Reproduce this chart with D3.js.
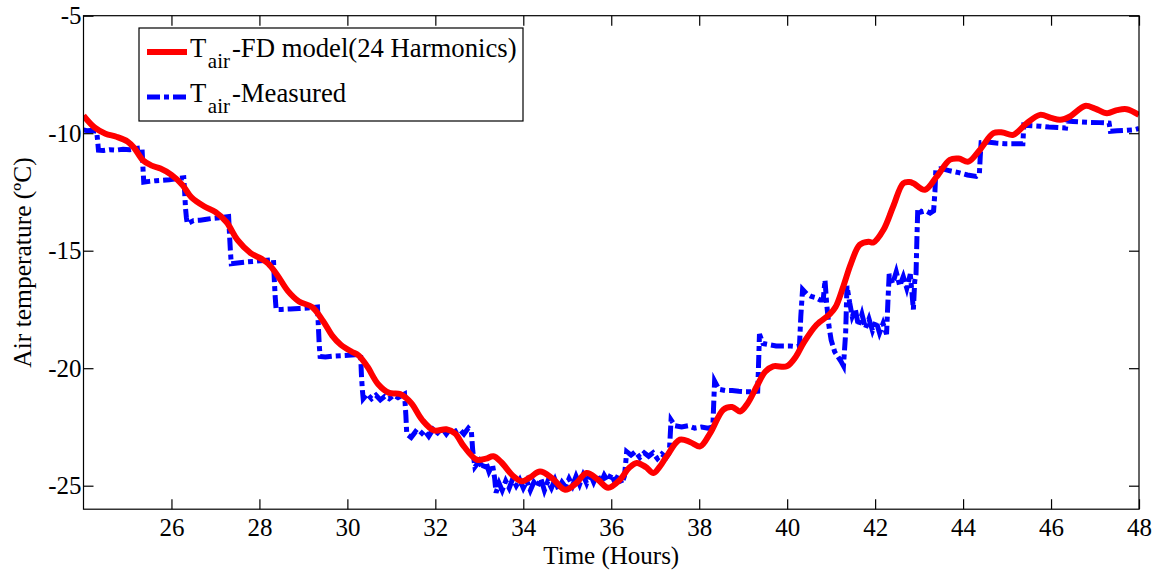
<!DOCTYPE html>
<html>
<head>
    <title>Air temperature</title>
    <style>
        body { margin: 0; background: #fff; }
        svg { font-family: "Liberation Serif", "Times New Roman", serif; }
        .axis path { display: none; }
        .axis line { stroke: #000; stroke-width: 1.2px; }
        .axis text { font-size: 25px; fill: #000; font-family: "Liberation Serif", serif; }
        .frame { fill: none; stroke: #000; stroke-width: 1.2px; }
        .model { fill: none; stroke: #ff0000; stroke-width: 6px; stroke-linejoin: round; }
        .measured { fill: none; stroke: #0000ff; stroke-width: 5px; stroke-dasharray: 13,4,5,4; }
    </style>
</head>
<body>
<div id="chart"></div>

<script src="https://d3js.org/d3.v7.min.js"></script>
<script>
    // tick values
    const xTicks = [26, 28, 30, 32, 34, 36, 38, 40, 42, 44, 46, 48];
    const yTicks = [-25, -20, -15, -10, -5];

    // T_air - FD model (24 harmonics), [hour, degC]
    const model = [
        [24.0, -9.25], [24.25, -9.75], [24.5, -10.02], [24.75, -10.15], [25.0, -10.35],
        [25.15, -10.62], [25.35, -11.15], [25.55, -11.38], [25.75, -11.5], [26.0, -11.77],
        [26.25, -12.2], [26.45, -12.72], [26.75, -13.12], [27.0, -13.35], [27.25, -13.78],
        [27.5, -14.54], [27.8, -15.1], [28.05, -15.35], [28.2, -15.55], [28.4, -16.02],
        [28.65, -16.72], [28.9, -17.16], [29.2, -17.4], [29.45, -18.0], [29.65, -18.6],
        [29.85, -19.0], [30.1, -19.3], [30.25, -19.45], [30.45, -19.92], [30.7, -20.68],
        [30.95, -21.05], [31.2, -21.1], [31.45, -21.48], [31.7, -22.2], [31.97, -22.65],
        [32.25, -22.6], [32.45, -22.78], [32.65, -23.33], [32.94, -23.89], [33.15, -23.85],
        [33.32, -23.75], [33.5, -24.0], [33.75, -24.55], [33.96, -24.81], [34.15, -24.65],
        [34.38, -24.4], [34.65, -24.67], [34.95, -25.17], [35.2, -24.9], [35.44, -24.46],
        [35.7, -24.75], [35.93, -25.09], [36.2, -24.74], [36.4, -24.25], [36.58, -24.03],
        [36.78, -24.2], [36.96, -24.46], [37.1, -24.2], [37.26, -23.75], [37.56, -23.04],
        [37.8, -23.15], [38.02, -23.33], [38.25, -22.76], [38.55, -21.76], [38.75, -21.65],
        [38.93, -21.84], [39.1, -21.5], [39.31, -20.77], [39.5, -20.15], [39.68, -19.92],
        [39.99, -19.92], [40.2, -19.5], [40.37, -18.93], [40.67, -18.15], [40.97, -17.7],
        [41.1, -17.4], [41.28, -16.5], [41.45, -15.55], [41.65, -14.75], [41.85, -14.62],
        [41.96, -14.65], [42.19, -14.11], [42.41, -13.12], [42.64, -12.13], [42.78, -12.08],
        [42.87, -12.13], [43.13, -12.41], [43.4, -11.85], [43.7, -11.13], [43.9, -11.08],
        [44.12, -11.21], [44.38, -10.71], [44.69, -10.0], [44.9, -9.97], [45.14, -10.07],
        [45.45, -9.57], [45.75, -9.22], [46.0, -9.35], [46.21, -9.43], [46.43, -9.29],
        [46.77, -8.84], [47.0, -8.95], [47.27, -9.15], [47.5, -9.02], [47.72, -8.98],
        [48.0, -9.22]
    ];

    // T_air - measured, [hour, degC]
    const measured = [
        [24.0, -9.86], [24.1, -9.9], [24.2, -9.88], [24.3, -9.92], [24.32, -10.3], [24.34, -10.72],
        [24.45, -10.74], [24.6, -10.7], [24.75, -10.72], [24.9, -10.68], [25.05, -10.7], [25.2, -10.65], [25.33, -10.62],
        [25.35, -11.4], [25.37, -12.08],
        [25.5, -12.05], [25.65, -12.02], [25.8, -12.0], [25.95, -11.98], [26.1, -11.94], [26.28, -11.9],
        [26.3, -12.5], [26.32, -13.2], [26.34, -13.6], [26.36, -13.85],
        [26.5, -13.72], [26.65, -13.7], [26.8, -13.66], [26.95, -13.62], [27.1, -13.6], [27.3, -13.55],
        [27.32, -14.3], [27.34, -15.0], [27.36, -15.55],
        [27.5, -15.52], [27.7, -15.48], [27.9, -15.45], [28.1, -15.42], [28.32, -15.38],
        [28.34, -16.3], [28.36, -17.0], [28.38, -17.5],
        [28.5, -17.5], [28.7, -17.48], [28.9, -17.46], [29.1, -17.44], [29.32, -17.4],
        [29.34, -18.2], [29.36, -19.0], [29.38, -19.5],
        [29.5, -19.52], [29.7, -19.48], [29.9, -19.46], [30.1, -19.44], [30.3, -19.4],
        [30.32, -20.3], [30.34, -20.9], [30.36, -21.3],
        [30.45, -21.1], [30.55, -21.3], [30.65, -21.15], [30.75, -21.35], [30.85, -21.2], [30.95, -21.3],
        [31.05, -21.15], [31.15, -21.25], [31.3, -21.1],
        [31.33, -22.0], [31.35, -22.8],
        [31.45, -22.95], [31.55, -22.7], [31.65, -22.85], [31.75, -22.65], [31.85, -22.9], [31.95, -22.6],
        [32.05, -22.75], [32.15, -22.55], [32.25, -22.8], [32.35, -22.55], [32.45, -22.7], [32.55, -22.6],
        [32.65, -22.8], [32.75, -22.55], [32.82, -22.7],
        [32.85, -23.5], [32.9, -24.2],
        [33.0, -23.95], [33.08, -24.3], [33.15, -24.0], [33.22, -24.4], [33.3, -24.1],
        [33.35, -24.7], [33.38, -25.3],
        [33.45, -24.9], [33.52, -25.2], [33.6, -24.8], [33.68, -25.1], [33.76, -24.7], [33.84, -25.0],
        [33.92, -24.75], [34.0, -25.1], [34.08, -24.8], [34.16, -25.2], [34.24, -24.85], [34.32, -25.05],
        [34.4, -24.7], [34.48, -25.2], [34.56, -24.8], [34.64, -25.1], [34.72, -24.75], [34.8, -25.15],
        [34.88, -24.85], [34.96, -25.05], [35.04, -24.7], [35.12, -25.0], [35.2, -24.6], [35.28, -24.95],
        [35.36, -24.55], [35.44, -24.9], [35.52, -24.5], [35.6, -24.85], [35.68, -24.5], [35.76, -24.9],
        [35.84, -24.55], [35.92, -24.8], [36.0, -24.5], [36.08, -24.85], [36.16, -24.55], [36.24, -24.9],
        [36.3, -24.6],
        [36.33, -24.0], [36.35, -23.55],
        [36.45, -23.7], [36.55, -23.55], [36.65, -23.8], [36.75, -23.6], [36.85, -23.75], [36.95, -23.6],
        [37.05, -23.85], [37.15, -23.65], [37.25, -23.8], [37.32, -23.6],
        [37.34, -22.9], [37.36, -22.2],
        [37.45, -22.45], [37.6, -22.5], [37.75, -22.45], [37.9, -22.55], [38.05, -22.5], [38.2, -22.55], [38.31, -22.5],
        [38.33, -21.5], [38.35, -20.55],
        [38.45, -20.9], [38.6, -20.95], [38.75, -20.95], [38.9, -20.98], [39.05, -21.0], [39.2, -21.0], [39.33, -20.98],
        [39.35, -19.8], [39.37, -18.55],
        [39.45, -18.95], [39.6, -19.0], [39.75, -19.05], [39.9, -19.05], [40.05, -19.05], [40.2, -19.08], [40.28, -19.05],
        [40.31, -17.8], [40.35, -16.65],
        [40.45, -16.85], [40.55, -16.95], [40.65, -17.0], [40.75, -17.1], [40.82, -17.1], [40.86, -16.25],
        [40.9, -17.3], [40.95, -18.2], [41.0, -18.8], [41.08, -19.3], [41.15, -19.5], [41.22, -19.7],
        [41.28, -19.9], [41.33, -18.5], [41.36, -16.5],
        [41.42, -17.2], [41.48, -17.8], [41.55, -17.5], [41.62, -18.2], [41.7, -17.7], [41.78, -18.3],
        [41.86, -17.9], [41.94, -18.4], [42.02, -18.0], [42.1, -18.5], [42.18, -18.1], [42.26, -18.55],
        [42.29, -17.2], [42.32, -16.0],
        [42.4, -16.4], [42.48, -15.9], [42.56, -16.5], [42.64, -16.1], [42.72, -16.6], [42.8, -16.0],
        [42.87, -17.5], [42.9, -16.3], [42.93, -16.0],
        [42.95, -14.5], [42.97, -13.2],
        [43.05, -13.35], [43.15, -13.3], [43.25, -13.4], [43.33, -13.3],
        [43.36, -12.5], [43.38, -11.55],
        [43.5, -11.5], [43.7, -11.6], [43.9, -11.68], [44.1, -11.78], [44.3, -11.84], [44.37, -11.75],
        [44.39, -11.0], [44.41, -10.4],
        [44.55, -10.38], [44.75, -10.42], [44.95, -10.45], [45.15, -10.45], [45.36, -10.45],
        [45.38, -9.65],
        [45.55, -9.68], [45.75, -9.7], [45.95, -9.74], [46.15, -9.76], [46.33, -9.78],
        [46.35, -9.48],
        [46.5, -9.5], [46.7, -9.52], [46.9, -9.54], [47.1, -9.55], [47.32, -9.57],
        [47.35, -9.92],
        [47.5, -9.9], [47.7, -9.88], [47.9, -9.85], [48.0, -9.8]
    ];

    const width = 1165, height = 575;
    const plotLeft = 83.5, plotRight = 1139, plotTop = 15.7, plotBottom = 509.2;

    const svg = d3.select('#chart').append('svg')
        .attr('width', width)
        .attr('height', height);

    const x = d3.scaleLinear().domain([24, 48]).range([plotLeft, plotRight]);
    const y = d3.scaleLinear().domain([-26, -5]).range([plotBottom, plotTop]);

    svg.append('clipPath').attr('id', 'plotClip')
        .append('rect')
        .attr('x', plotLeft).attr('y', plotTop)
        .attr('width', plotRight - plotLeft).attr('height', plotBottom - plotTop);

    const line = d3.line()
        .x(d => x(d[0]))
        .y(d => y(d[1]));

    const plot = svg.append('g').attr('clip-path', 'url(#plotClip)');

    plot.append('path')
        .datum(measured)
        .attr('class', 'measured')
        .attr('d', line);

    plot.append('path')
        .datum(model)
        .attr('class', 'model')
        .attr('d', line.curve(d3.curveCatmullRom.alpha(0.5)));

    // axes, ticks pointing inward
    const fmt = d => String(d);
    svg.append('g').attr('class', 'axis')
        .attr('transform', `translate(0,${plotBottom})`)
        .call(d3.axisBottom(x).tickValues(xTicks).tickFormat(fmt).tickSize(-10).tickPadding(9));
    svg.append('g').attr('class', 'axis')
        .attr('transform', `translate(0,${plotTop})`)
        .call(d3.axisTop(x).tickValues(xTicks).tickFormat('').tickSize(-10));
    svg.append('g').attr('class', 'axis')
        .attr('transform', `translate(${plotLeft},0)`)
        .call(d3.axisLeft(y).tickValues(yTicks).tickFormat(fmt).tickSize(-10).tickPadding(2));
    svg.append('g').attr('class', 'axis')
        .attr('transform', `translate(${plotRight},0)`)
        .call(d3.axisRight(y).tickValues(yTicks).tickFormat('').tickSize(-10));

    svg.append('rect')
        .attr('class', 'frame')
        .attr('x', plotLeft).attr('y', plotTop)
        .attr('width', plotRight - plotLeft).attr('height', plotBottom - plotTop);

    svg.append('text')
        .attr('x', (plotLeft + plotRight) / 2)
        .attr('y', 564)
        .attr('text-anchor', 'middle')
        .style('font-size', '25px')
        .text('Time (Hours)');

    svg.append('text')
        .attr('transform', `translate(31,${(plotTop + plotBottom) / 2}) rotate(-90)`)
        .attr('text-anchor', 'middle')
        .style('font-size', '25.5px')
        .text('Air temperature (ºC)');

    // legend
    const legend = svg.append('g');
    legend.append('rect')
        .attr('x', 139).attr('y', 28)
        .attr('width', 384).attr('height', 93)
        .attr('fill', '#fff')
        .attr('stroke', '#000')
        .attr('stroke-width', 1.2);

    const entries = [
        { cls: 'model', rest: '-FD model(24 Harmonics)', y: 52 },
        { cls: 'measured', rest: '-Measured', y: 97 }
    ];

    entries.forEach(e => {
        legend.append('line')
            .attr('class', e.cls)
            .attr('x1', 147).attr('x2', 187)
            .attr('y1', e.y).attr('y2', e.y);
        const t = legend.append('text')
            .attr('x', 190)
            .attr('y', e.y + 5)
            .style('font-size', '26.7px');
        t.append('tspan').text('T');
        t.append('tspan').attr('dx', 1.5).attr('dy', 11).style('font-size', '21px').text('air');
        t.append('tspan').attr('dx', 2).attr('dy', -11).text(e.rest);
    });
</script>
</body>
</html>
